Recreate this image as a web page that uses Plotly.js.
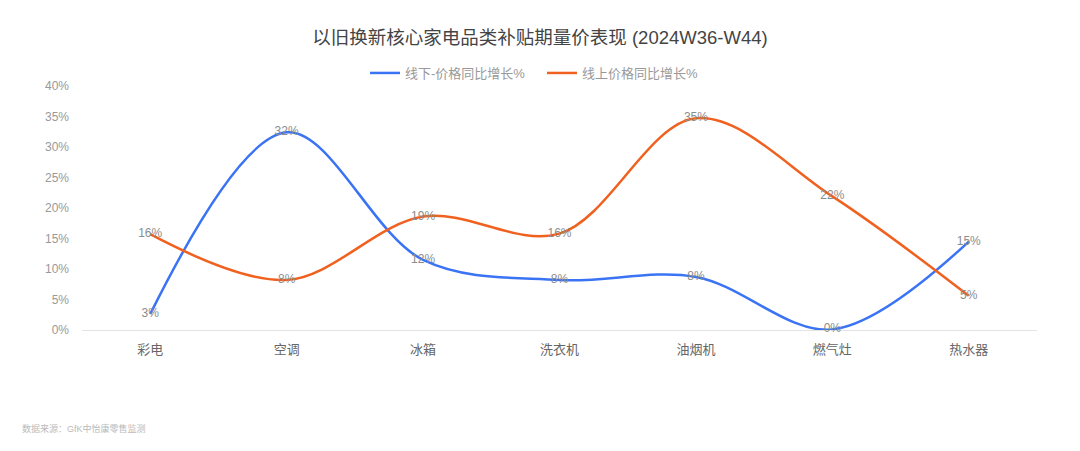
<!DOCTYPE html>
<html>
<head>
<meta charset="utf-8">
<script src="https://cdn.plot.ly/plotly-3.0.1.min.js"></script>
<style>html,body{margin:0;padding:0;background:#fff;}#chart{width:1080px;height:451px;}</style>
</head>
<body>
<div id="chart"></div>
<script>
const categories = ["彩电", "空调", "冰箱", "洗衣机", "油烟机", "燃气灶", "热水器"];
const offlineName = "线下-价格同比增长%";
const onlineName = "线上价格同比增长%";
const offlineValues = [2.6, 32.4, 11.5, 8.2, 8.7, 0.1, 14.5];
const offlineLabels = ["3%", "32%", "12%", "8%", "8%", "0%", "15%"];
const onlineValues = [15.7, 8.2, 18.6, 15.8, 34.7, 21.9, 5.6];
const onlineLabels = ["16%", "8%", "19%", "16%", "35%", "22%", "5%"];
const yTickVals = [0, 5, 10, 15, 20, 25, 30, 35, 40];
const yTickText = ["0%", "5%", "10%", "15%", "20%", "25%", "30%", "35%", "40%"];

const FONT = "'Liberation Sans', 'Noto Sans CJK SC', sans-serif";

const traces = [
  {
    x: categories, y: offlineValues, name: offlineName, type: "scatter",
    mode: "lines+text", text: offlineLabels, textposition: "middle center",
    textfont: {color: "#8c8c8c", size: 12, family: FONT},
    line: {color: "#3a74f4", width: 2.5, shape: "spline", smoothing: 1},
    cliponaxis: false, hoverinfo: "skip"
  },
  {
    x: categories, y: onlineValues, name: onlineName, type: "scatter",
    mode: "lines+text", text: onlineLabels, textposition: "middle center",
    textfont: {color: "#8c8c8c", size: 12, family: FONT},
    line: {color: "#f0611f", width: 2.5, shape: "spline", smoothing: 1},
    cliponaxis: false, hoverinfo: "skip"
  }
];

const layout = {
  width: 1080, height: 451,
  paper_bgcolor: "#fff", plot_bgcolor: "#fff",
  margin: {l: 82, r: 43, t: 86, b: 121},
  font: {family: FONT, color: "#666"},
  title: {
    text: "以旧换新核心家电品类补贴期量价表现 (2024W36-W44)",
    font: {size: 18.5, color: "#444", family: FONT},
    x: 0.5, xanchor: "center", xref: "container",
    y: 1 - 38/451, yanchor: "middle", yref: "container"
  },
  showlegend: true,
  legend: {
    orientation: "h", xref: "paper", x: (542 - 82) / 955, xanchor: "center",
    y: 1 + 13/244, yanchor: "middle",
    font: {size: 13, color: "#999", family: FONT},
    itemwidth: 30, entrywidth: 132, entrywidthmode: "pixels",
    traceorder: "normal", bgcolor: "rgba(0,0,0,0)"
  },
  xaxis: {
    type: "category", range: [-0.5, 6.5],
    showgrid: false, zeroline: false, showline: false,
    ticks: "", tickfont: {size: 13, color: "#666", family: FONT},
    ticklabelstandoff: 10, fixedrange: true
  },
  yaxis: {
    range: [0, 40], tickvals: yTickVals, ticktext: yTickText,
    showgrid: false, zeroline: true, zerolinecolor: "#e3e3e3", zerolinewidth: 1,
    showline: false, ticks: "", tickfont: {size: 12, color: "#999", family: FONT},
    ticklabelstandoff: 12, fixedrange: true
  },
  annotations: [
    {
      text: "数据来源：GfK中怡康零售监测", xref: "paper", yref: "paper",
      x: -62/955, xanchor: "left", y: -(428-330)/244, yanchor: "middle",
      showarrow: false, font: {size: 9, color: "#bbb", family: FONT}
    }
  ]
};

Plotly.newPlot("chart", traces, layout, {displayModeBar: false, staticPlot: true});
</script>
</body>
</html>
